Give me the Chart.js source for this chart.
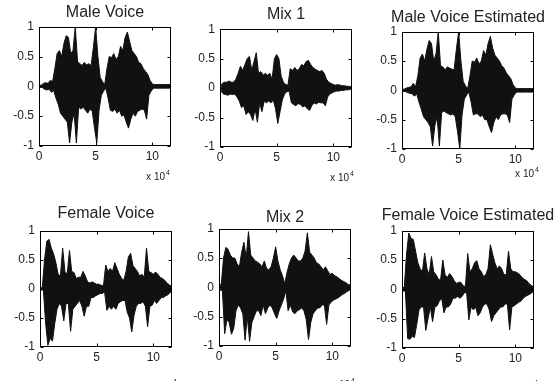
<!DOCTYPE html>
<html>
<head>
<meta charset="utf-8">
<script src="https://cdn.jsdelivr.net/npm/chart.js@4/dist/chart.umd.min.js"></script>
<style>
  html, body { margin: 0; padding: 0; background: #fff; }
  body { width: 560px; height: 381px; overflow: hidden; position: relative; }
  canvas { position: absolute; }
</style>
</head>
<body>
<script>
// envelope of each waveform, every 0.2 (x 10^4 samples), 0 .. 11.6
const STEP = 0.2;
const xTicks = [0, 5, 10];
const yTicks = [-1, -0.5, 0, 0.5, 1];

const maleUpper = [0.02, 0.02, 0.05, 0.06, 0.05, 0.1, 0.08, 0.3, 0.55, 0.6,
  0.5, 0.72, 0.85, 0.82, 0.55, 0.6, 1.0, 0.42, 0.38, 0.35,
  0.4, 0.36, 0.38, 0.35, 0.65, 1.0, 0.5, 0.15, 0.08, 0.03,
  0.3, 0.5, 0.48, 0.55, 0.45, 0.5, 0.67, 0.6, 0.82, 0.91,
  0.75, 0.6, 0.55, 0.5, 0.4, 0.38, 0.3, 0.25, 0.2, 0.1,
  0.04, 0.03, 0.03, 0.03, 0.03, 0.03, 0.03, 0.03, 0.03];
const maleLower = [-0.02, -0.02, -0.05, -0.06, -0.05, -0.1, -0.07, -0.2, -0.3, -0.45,
  -0.5, -0.55, -0.6, -0.95, -0.6, -0.45, -0.95, -0.35, -0.38, -0.35,
  -0.4, -0.45, -0.38, -0.42, -0.7, -0.95, -0.4, -0.15, -0.08, -0.03,
  -0.2, -0.4, -0.42, -0.38, -0.45, -0.4, -0.5, -0.48, -0.6, -0.7,
  -0.55, -0.45, -0.5, -0.42, -0.4, -0.38, -0.4, -0.55, -0.15, -0.08,
  -0.03, -0.03, -0.03, -0.03, -0.03, -0.03, -0.03, -0.03, -0.03];

const mix1Upper = [0.04, 0.08, 0.1, 0.1, 0.12, 0.1, 0.1, 0.15, 0.25, 0.37,
  0.3, 0.4, 0.5, 0.54, 0.3, 0.45, 0.6, 0.25, 0.28, 0.22,
  0.25, 0.22, 0.25, 0.15, 0.5, 0.57, 0.5, 0.2, 0.1, 0.06,
  0.05, 0.33, 0.3, 0.35, 0.3, 0.33, 0.4, 0.38, 0.45, 0.47,
  0.4, 0.35, 0.32, 0.3, 0.28, 0.3, 0.25, 0.15, 0.1, 0.08,
  0.06, 0.05, 0.06, 0.05, 0.04, 0.04, 0.03, 0.03, 0.02];
const mix1Lower = [-0.05, -0.1, -0.11, -0.12, -0.1, -0.11, -0.1, -0.15, -0.22, -0.33,
  -0.3, -0.45, -0.4, -0.45, -0.55, -0.35, -0.58, -0.25, -0.4, -0.22,
  -0.25, -0.22, -0.25, -0.2, -0.35, -0.6, -0.4, -0.2, -0.1, -0.06,
  -0.05, -0.25, -0.28, -0.3, -0.26, -0.28, -0.32, -0.3, -0.35, -0.38,
  -0.3, -0.25, -0.27, -0.24, -0.25, -0.25, -0.3, -0.15, -0.1, -0.08,
  -0.06, -0.05, -0.05, -0.04, -0.04, -0.03, -0.03, -0.02, -0.02];

const maleEstUpper = [0.02, 0.02, 0.04, 0.05, 0.06, 0.12, 0.06, 0.25, 0.55, 0.62,
  0.5, 0.7, 0.85, 0.8, 0.5, 0.62, 1.0, 0.42, 0.4, 0.35,
  0.4, 0.38, 0.36, 0.35, 0.7, 1.0, 0.5, 0.15, 0.08, 0.03,
  0.25, 0.5, 0.48, 0.55, 0.45, 0.5, 0.68, 0.6, 0.8, 0.92,
  0.72, 0.6, 0.55, 0.5, 0.42, 0.38, 0.3, 0.25, 0.2, 0.1,
  0.04, 0.03, 0.03, 0.03, 0.03, 0.03, 0.03, 0.03, 0.03];
const maleEstLower = [-0.02, -0.02, -0.04, -0.05, -0.06, -0.1, -0.06, -0.2, -0.32, -0.45,
  -0.5, -0.55, -0.62, -0.95, -0.6, -0.45, -0.95, -0.38, -0.35, -0.38,
  -0.4, -0.42, -0.4, -0.45, -0.7, -1.0, -0.42, -0.15, -0.08, -0.03,
  -0.2, -0.42, -0.4, -0.4, -0.45, -0.42, -0.5, -0.5, -0.62, -0.72,
  -0.55, -0.45, -0.5, -0.42, -0.4, -0.4, -0.42, -0.55, -0.15, -0.08,
  -0.03, -0.03, -0.03, -0.03, -0.03, -0.03, -0.03, -0.03, -0.03];

const femaleUpper = [0.02, 0.02, 0.5, 0.82, 0.85, 0.7, 0.6, 0.45, 0.25, 0.22,
  0.7, 0.3, 0.25, 0.66, 0.3, 0.28, 0.18, 0.2, 0.2, 0.3,
  0.22, 0.12, 0.1, 0.12, 0.1, 0.08, 0.08, 0.06, 0.05, 0.41,
  0.3, 0.35, 0.3, 0.45, 0.35, 0.25, 0.18, 0.15, 0.3, 0.55,
  0.61, 0.4, 0.35, 0.3, 0.22, 0.25, 0.2, 0.7, 0.3, 0.28,
  0.25, 0.29, 0.25, 0.2, 0.18, 0.15, 0.1, 0.07, 0.04];
const femaleLower = [-0.02, -0.02, -0.6, -0.97, -0.85, -0.9, -0.6, -0.35, -0.25, -0.3,
  -0.55, -0.25, -0.25, -0.73, -0.35, -0.3, -0.25, -0.2, -0.3, -0.47,
  -0.3, -0.3, -0.15, -0.15, -0.12, -0.1, -0.08, -0.08, -0.05, -0.37,
  -0.3, -0.35, -0.3, -0.35, -0.25, -0.22, -0.2, -0.2, -0.4, -0.5,
  -0.74, -0.45, -0.3, -0.25, -0.25, -0.22, -0.3, -0.65, -0.3, -0.28,
  -0.2, -0.25, -0.2, -0.15, -0.15, -0.12, -0.1, -0.06, -0.03];

const mix2Upper = [0.05, 0.05, 0.5, 0.68, 0.65, 0.55, 0.5, 0.5, 0.4, 0.35,
  0.6, 0.77, 0.5, 0.95, 0.55, 0.5, 0.45, 0.43, 0.4, 0.35,
  0.45, 0.32, 0.3, 0.35, 0.5, 0.69, 0.45, 0.3, 0.2, 0.06,
  0.25, 0.4, 0.5, 0.55, 0.5, 0.45, 0.45, 0.5, 0.62, 0.93,
  0.6, 0.55, 0.5, 0.42, 0.4, 0.35, 0.3, 0.35, 0.28, 0.22,
  0.24, 0.2, 0.18, 0.15, 0.12, 0.1, 0.08, 0.05, 0.04];
const mix2Lower = [-0.05, -0.05, -0.79, -0.55, -0.6, -0.8, -0.7, -0.4, -0.3, -0.35,
  -0.45, -0.9, -0.5, -0.92, -0.6, -0.5, -0.4, -0.4, -0.48, -0.3,
  -0.45, -0.35, -0.3, -0.35, -0.45, -0.53, -0.4, -0.3, -0.2, -0.06,
  -0.4, -0.3, -0.42, -0.45, -0.4, -0.38, -0.35, -0.4, -0.55, -0.89,
  -0.6, -0.45, -0.4, -0.35, -0.35, -0.3, -0.3, -0.63, -0.3, -0.25,
  -0.22, -0.2, -0.18, -0.15, -0.12, -0.1, -0.07, -0.05, -0.03];

const femaleEstUpper = [0.03, 0.03, 0.6, 0.96, 0.87, 0.85, 0.65, 0.45, 0.35, 0.3,
  0.62, 0.35, 0.25, 0.56, 0.3, 0.25, 0.18, 0.15, 0.5, 0.25,
  0.2, 0.27, 0.22, 0.15, 0.1, 0.12, 0.12, 0.06, 0.05, 0.61,
  0.3, 0.35, 0.45, 0.49, 0.35, 0.3, 0.22, 0.25, 0.36, 0.76,
  0.6, 0.45, 0.35, 0.4, 0.35, 0.25, 0.25, 0.65, 0.35, 0.3,
  0.3, 0.28, 0.25, 0.2, 0.17, 0.15, 0.1, 0.07, 0.04];
const femaleEstLower = [-0.03, -0.03, -0.84, -0.85, -0.8, -0.82, -0.6, -0.35, -0.3, -0.3,
  -0.7, -0.5, -0.3, -0.55, -0.3, -0.28, -0.2, -0.15, -0.4, -0.3,
  -0.3, -0.25, -0.15, -0.15, -0.12, -0.15, -0.12, -0.06, -0.05, -0.52,
  -0.3, -0.35, -0.3, -0.45, -0.4, -0.3, -0.25, -0.25, -0.35, -0.55,
  -0.45, -0.4, -0.35, -0.3, -0.3, -0.25, -0.25, -0.69, -0.3, -0.28,
  -0.25, -0.22, -0.2, -0.15, -0.12, -0.1, -0.08, -0.05, -0.03];

const titles = ['Male Voice', 'Mix 1', 'Male Voice Estimated',
  'Female Voice', 'Mix 2', 'Female Voice Estimated'];
const uppers = [maleUpper, mix1Upper, maleEstUpper, femaleUpper, mix2Upper, femaleEstUpper];
const lowers = [maleLower, mix1Lower, maleEstLower, femaleLower, mix2Lower, femaleEstLower];

// plot boxes on the page: left, top, height, gap under the title, "x 10^4" offset
const boxes = [
  { l: 39, t: 27, h: 119, tp: 4.5, dx: -6, dy: 34 },
  { l: 220, t: 29, h: 118, tp: 5, dx: -3, dy: 34 },
  { l: 402, t: 32, h: 117, tp: 4.5, dx: 0, dy: 28 },
  { l: 40, t: 231, h: 116, tp: 7.5, dx: 0, dy: 42 },
  { l: 219, t: 229, h: 117, tp: 1.5, dx: -1, dy: 42 },
  { l: 402, t: 231, h: 117, tp: 5.5, dx: -1, dy: 42 }
];
const BOX_W = 132, SIDE = 40, XAXIS_H = 46;
const TITLE_SIZE = 16, TITLE_LH = 1.2;
const FONT = '"Liberation Sans", Arial, sans-serif';

function points(vals, offset) {
  return vals.map((v, i) => ({ x: i * STEP + offset, y: v }));
}

const framePlugin = {
  id: 'frame',
  afterDraw(chart, args, opts) {
    const { ctx, chartArea: a, scales } = chart;
    const L = Math.round(a.left) + 0.5, R = Math.round(a.right) - 0.5;
    const T = Math.round(a.top) + 0.5, B = Math.round(a.bottom) - 0.5;
    ctx.save();
    ctx.strokeStyle = '#000';
    ctx.lineWidth = 1;
    ctx.strokeRect(L, T, R - L, B - T);
    ctx.beginPath();
    scales.x.ticks.forEach(t => {
      const x = Math.round(scales.x.getPixelForValue(t.value)) + 0.5;
      ctx.moveTo(x, B); ctx.lineTo(x, B - 3);
      ctx.moveTo(x, T); ctx.lineTo(x, T + 3);
    });
    scales.y.ticks.forEach(t => {
      const y = Math.round(scales.y.getPixelForValue(t.value)) + 0.5;
      ctx.moveTo(L, y); ctx.lineTo(L + 3, y);
      ctx.moveTo(R, y); ctx.lineTo(R - 3, y);
    });
    ctx.stroke();
    ctx.fillStyle = '#222';
    ctx.font = '10px ' + FONT;
    ctx.textAlign = 'right';
    ctx.fillText('x 10', a.right + opts.dx, a.bottom + opts.dy);
    ctx.font = '7px ' + FONT;
    ctx.textAlign = 'left';
    ctx.fillText('4', a.right + opts.dx + 1, a.bottom + opts.dy - 5);
    ctx.restore();
  }
};

boxes.forEach((b, i) => {
  const titleH = TITLE_SIZE * TITLE_LH + b.tp;
  const cv = document.createElement('canvas');
  cv.width = BOX_W + 2 * SIDE;
  cv.height = Math.round(titleH + b.h + XAXIS_H);
  cv.style.left = (b.l - SIDE) + 'px';
  cv.style.top = (b.t - titleH) + 'px';
  document.body.appendChild(cv);

  new Chart(cv.getContext('2d'), {
    type: 'line',
    data: {
      datasets: [{
        // positive half, filled down to the negative half
        data: points(uppers[i], 0),
        borderColor: '#111',
        backgroundColor: '#111',
        borderWidth: 1,
        pointRadius: 0,
        tension: 0,
        fill: '+1'
      }, {
        data: points(lowers[i], STEP / 2),
        borderColor: '#111',
        borderWidth: 1,
        pointRadius: 0,
        tension: 0,
        fill: false
      }]
    },
    options: {
      responsive: false,
      animation: false,
      layout: { padding: 0 },
      plugins: {
        legend: { display: false },
        tooltip: { enabled: false },
        title: {
          display: true,
          text: titles[i],
          color: '#222',
          font: { family: FONT, size: TITLE_SIZE, weight: 'normal', lineHeight: TITLE_LH },
          padding: { top: 0, bottom: b.tp }
        },
        frame: { dx: b.dx, dy: b.dy }
      },
      scales: {
        x: {
          type: 'linear',
          min: 0,
          max: 11.65,
          afterBuildTicks: s => { s.ticks = xTicks.map(v => ({ value: v })); },
          afterFit: s => { s.height = XAXIS_H; },
          grid: { display: false, drawTicks: false },
          border: { display: false },
          ticks: { color: '#222', font: { family: FONT, size: 12 }, padding: 3, maxRotation: 0, autoSkip: false }
        },
        y: {
          min: -1,
          max: 1,
          afterBuildTicks: s => { s.ticks = yTicks.map(v => ({ value: v })); },
          afterFit: s => { s.width = SIDE; },
          grid: { display: false, drawTicks: false },
          border: { display: false },
          ticks: { color: '#222', font: { family: FONT, size: 12 }, padding: 5, callback: v => String(v) }
        },
        // empty right-hand axis so the plot box sits in the middle of its canvas
        yRight: {
          position: 'right',
          min: -1,
          max: 1,
          afterFit: s => { s.width = SIDE; },
          grid: { display: false, drawTicks: false },
          border: { display: false },
          ticks: { display: false }
        }
      }
    },
    plugins: [framePlugin]
  });
});
</script>
</body>
</html>
